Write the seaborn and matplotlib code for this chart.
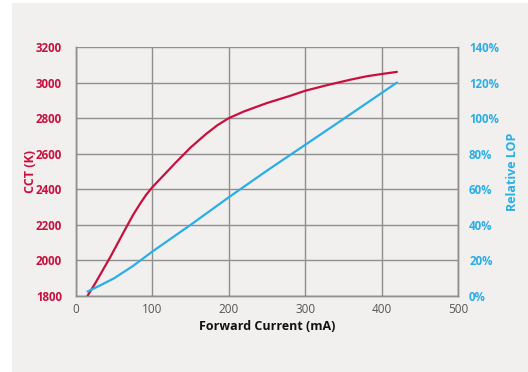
import matplotlib
matplotlib.use("Agg")
import matplotlib.pyplot as plt
import seaborn as sns
import pandas as pd
from matplotlib.patches import Rectangle
from matplotlib.ticker import FuncFormatter

# CCT curve (red, left axis)
cct_current = [15, 25, 35, 45, 55, 65, 75, 85, 92, 100, 115, 130, 150, 170, 185, 200,
               220, 250, 280, 300, 330, 360, 380, 400, 420]
cct_values = [1800, 1870, 1945, 2020, 2100, 2180, 2258, 2326, 2370, 2412, 2480, 2548, 2635, 2710, 2760, 2800,
              2838, 2885, 2925, 2954, 2987, 3017, 3035, 3048, 3060]

# Relative LOP curve (blue, right axis)
lop_current = [15, 30, 50, 75, 100, 125, 150, 200, 250, 300, 350, 420]
lop_values = [2.5, 5.6, 10, 17, 25, 32.5, 40, 55.5, 70.5, 85, 99.5, 120]

red = "#c8103e"
blue = "#2aaee6"
grid_gray = "#8f8f8f"
bg = "#f1f0ee"

sns.set_style("white")
plt.rcParams["font.family"] = ["Open Sans", "DejaVu Sans"]

fig = plt.figure(figsize=(5.28, 3.72), dpi=100)
fig.patch.set_facecolor("white")
fig.patches.append(Rectangle((12 / 528, 0), 1, 1 - 3 / 372, transform=fig.transFigure,
                             facecolor=bg, edgecolor="none", zorder=-10))

ax = fig.add_axes([76 / 528, 1 - 296 / 372, 382 / 528, 249 / 372])
ax.set_facecolor(bg)

cct_df = pd.DataFrame({"current": cct_current, "cct": cct_values})
lop_df = pd.DataFrame({"current": lop_current, "lop": lop_values})

sns.lineplot(data=cct_df, x="current", y="cct", ax=ax, color=red, lw=1.6, zorder=5)
ax.set_xlim(0, 500)
ax.set_ylim(1800, 3200)
ax.set_xticks([0, 100, 200, 300, 400, 500])
ax.set_yticks(range(1800, 3201, 200))
ax.grid(True, color=grid_gray, lw=1.0)
ax.set_axisbelow(True)

ax2 = ax.twinx()
sns.lineplot(data=lop_df, x="current", y="lop", ax=ax2, color=blue, lw=1.6, zorder=5)
ax2.set_ylim(0, 140)
ax2.set_yticks(range(0, 141, 20))
ax2.yaxis.set_major_formatter(FuncFormatter(lambda v, p: f"{int(v)}%"))

for a in (ax, ax2):
    for s in a.spines.values():
        s.set_color(grid_gray)
        s.set_linewidth(1.0)
    a.spines["top"].set_visible(False)

ax.tick_params(axis="y", length=0, pad=10, labelsize=8.3, labelcolor=red)
ax2.tick_params(axis="y", length=0, pad=8, labelsize=8.3, labelcolor=blue)
ax.tick_params(axis="x", length=3, color=grid_gray, pad=2, labelsize=8.5, labelcolor="#555555")

fig.canvas.draw()
for t in ax.get_yticklabels() + ax2.get_yticklabels():
    t.set_fontweight("bold")

ax.set_xlabel("Forward Current (mA)", fontsize=9, fontweight="bold", color="#111111", labelpad=3)
ax.set_ylabel("CCT (K)", fontsize=9, fontweight="bold", color=red, labelpad=-1)
ax2.set_ylabel("Relative LOP", fontsize=9, fontweight="bold", color=blue, labelpad=5)

fig.savefig("out.png", dpi=100, facecolor=fig.get_facecolor())
